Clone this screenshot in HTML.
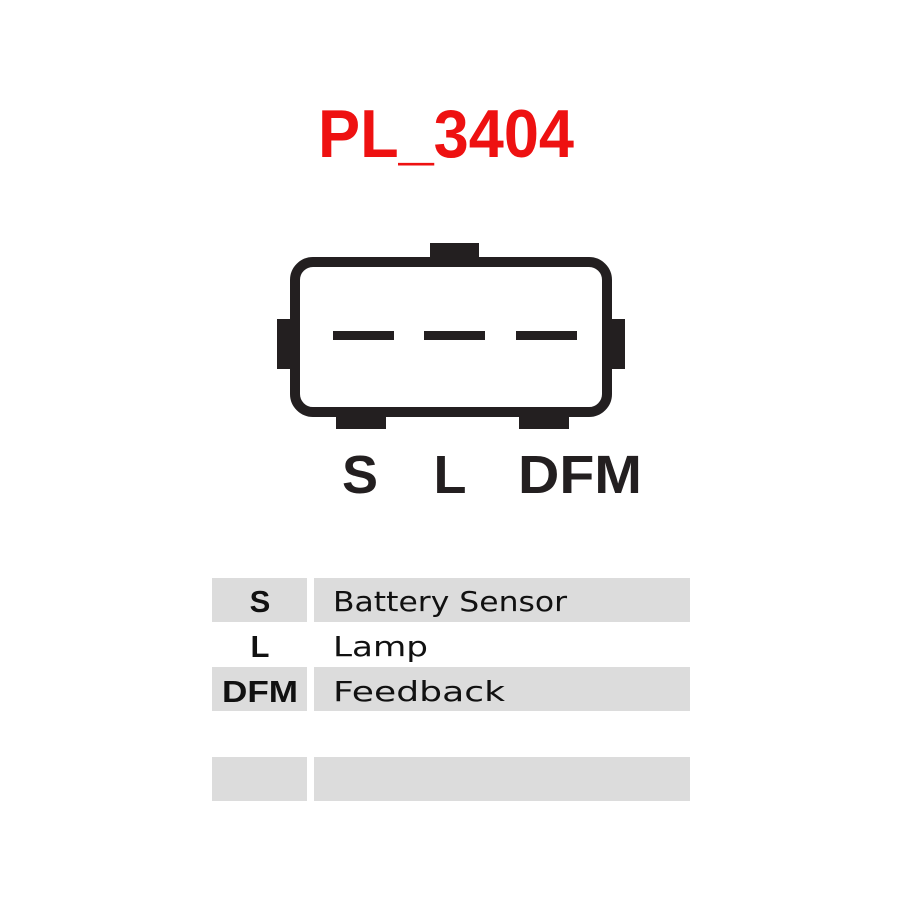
<!DOCTYPE html>
<html><head><meta charset="utf-8"><style>html,body{margin:0;padding:0;background:#fff}</style></head>
<body>
<svg width="900" height="900" viewBox="0 0 900 900" xmlns="http://www.w3.org/2000/svg">
<rect width="900" height="900" fill="#fff"/>
<text x="318" y="157" font-family="Liberation Sans, sans-serif" font-weight="bold" font-size="68" fill="#ee1111" textLength="256" lengthAdjust="spacingAndGlyphs">PL_3404</text>
<rect x="430" y="243" width="49" height="20" fill="#231f20"/>
<rect x="277" y="319" width="14" height="50" fill="#231f20"/>
<rect x="611" y="319" width="14" height="50" fill="#231f20"/>
<rect x="336" y="410" width="50" height="19" fill="#231f20"/>
<rect x="519" y="410" width="50" height="19" fill="#231f20"/>
<rect x="295" y="262" width="312" height="150" rx="18" fill="#fff" stroke="#231f20" stroke-width="10"/>
<rect x="333" y="331" width="61" height="9" fill="#231f20"/>
<rect x="424" y="331" width="61" height="9" fill="#231f20"/>
<rect x="516" y="331" width="61" height="9" fill="#231f20"/>
<g font-family="Liberation Sans, sans-serif" font-weight="bold" font-size="54" fill="#231f20">
<text x="360" y="493" text-anchor="middle">S</text>
<text x="450" y="493" text-anchor="middle">L</text>
<text x="518" y="493" textLength="124" lengthAdjust="spacingAndGlyphs">DFM</text>
</g>
<g fill="#dcdcdc">
<rect x="212" y="578" width="95" height="44"/>
<rect x="314" y="578" width="376" height="44"/>
<rect x="212" y="667" width="95" height="44"/>
<rect x="314" y="667" width="376" height="44"/>
<rect x="212" y="757" width="95" height="44"/>
<rect x="314" y="757" width="376" height="44"/>
</g>
<g font-family="Liberation Sans, sans-serif" font-weight="bold" font-size="31" fill="#111" text-anchor="middle">
<text x="260" y="612">S</text>
<text x="260" y="657">L</text>
<text x="260" y="702" textLength="76" lengthAdjust="spacingAndGlyphs">DFM</text>
</g>
<g font-family="DejaVu Sans, sans-serif" font-size="28" fill="#111">
<text x="333" y="611" textLength="234" lengthAdjust="spacingAndGlyphs">Battery Sensor</text>
<text x="333" y="656" textLength="95" lengthAdjust="spacingAndGlyphs">Lamp</text>
<text x="333" y="701" textLength="172" lengthAdjust="spacingAndGlyphs">Feedback</text>
</g>
</svg>
</body></html>
